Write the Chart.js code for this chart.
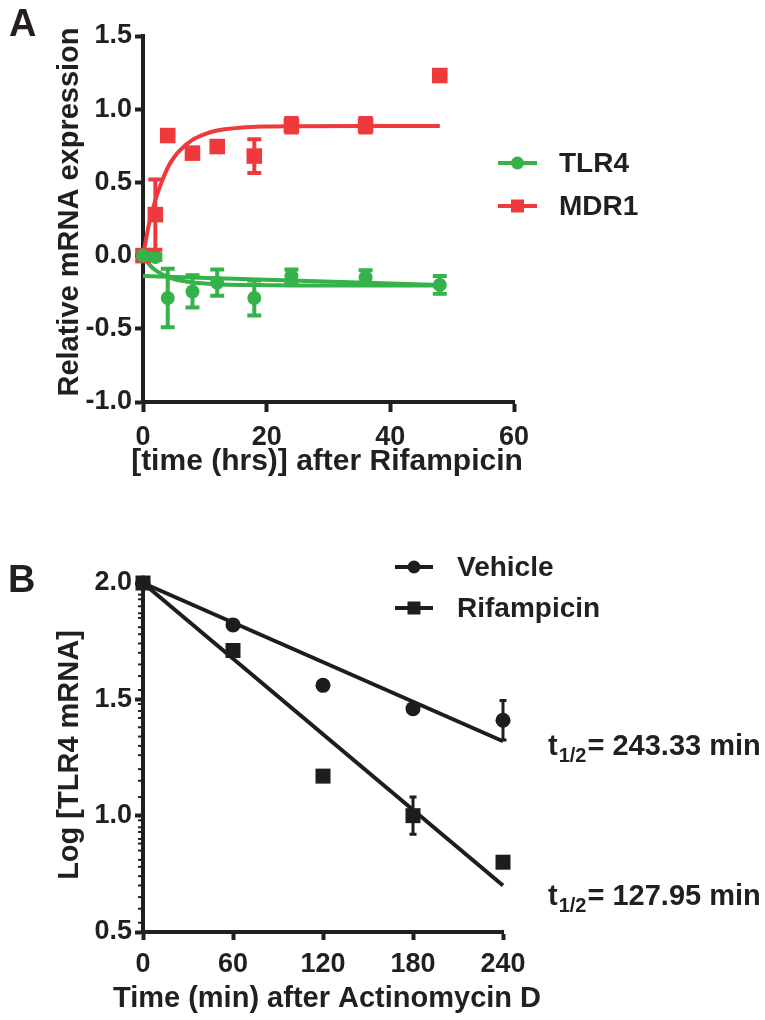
<!DOCTYPE html>
<html>
<head>
<meta charset="utf-8">
<script src="https://cdn.jsdelivr.net/npm/chart.js@4"></script>
<style>
  html, body { margin: 0; padding: 0; background: #fff; }
  #fig { position: relative; width: 765px; height: 1020px; font-family: "Liberation Sans", Arial, sans-serif; }
  .box { position: absolute; left: 0; width: 765px; }
  .panel { position: absolute; font-weight: bold; font-size: 38px; color: #231f20; line-height: 1; }
</style>
</head>
<body>
<div id="fig">
  <div class="box" style="top:0;height:490px"><canvas id="chartA"></canvas></div>
  <div class="box" style="top:500px;height:520px"><canvas id="chartB"></canvas></div>
  <div class="panel" style="left:9px;top:4px">A</div>
  <div class="panel" style="left:8px;top:560px">B</div>
</div>
<script>
// panel A: time course after rifampicin
const hoursA = [0, 2, 4, 8, 12, 18, 24, 36, 48];
const tlr4Mean = [0, -0.01, -0.29, -0.245, -0.185, -0.29, -0.14, -0.15, -0.2];
const tlr4Err = [0, 0.02, 0.2, 0.11, 0.09, 0.12, 0.045, 0.05, 0.06];
const mdr1Mean = [0, 0.28, 0.82, 0.70, 0.745, 0.68, 0.89, 0.89, 1.23];
const mdr1Err = [0, 0.24, 0, 0, 0, 0.115, 0.05, 0.05, 0];

// fitted curves
const fitHours = [0, 1, 2, 3, 4, 5, 6, 8, 10, 12, 16, 20, 24, 36, 48];
const mdr1Fit = [0, 0.22, 0.38, 0.50, 0.60, 0.67, 0.72, 0.79, 0.83, 0.855, 0.875, 0.882, 0.884, 0.885, 0.885];
const tlr4Fit = [0, -0.06, -0.10, -0.125, -0.145, -0.16, -0.17, -0.183, -0.19, -0.195, -0.2, -0.202, -0.204, -0.205, -0.205];
const tlr4LineHours = [0, 48];
const tlr4Line = [-0.14, -0.2];

// panel B: decay after actinomycin D
const minutesB = [0, 60, 120, 180, 240];
const vehicleMean = [2.0, 1.82, 1.56, 1.46, 1.41];
const vehicleErr = [0, 0, 0, 0, 0.085];
const rifMean = [2.0, 1.71, 1.17, 1.0, 0.80];
const rifErr = [0, 0, 0, 0.08, 0];
const fitMinutes = [0, 240];
const vehicleFit = [2.0, 1.32];
const rifFit = [2.0, 0.70];
const minorTicksB = [1.98, 1.95, 1.93, 1.90, 1.87, 1.85, 1.81, 1.78, 1.74, 1.70, 1.65, 1.60, 1.54,
  1.48, 1.45, 1.42, 1.38, 1.34, 1.30, 1.26, 1.20, 1.15, 1.08,
  0.98, 0.95, 0.93, 0.90, 0.88, 0.85, 0.81, 0.78, 0.74, 0.70, 0.65, 0.60, 0.54];

const TEXT = '#231f20';
const AX = '#231f20';
const GREEN = '#35b24a';
const RED = '#ee3a3d';
const BLACK = '#1f1c1d';
const FONT = '"Liberation Sans", Arial, sans-serif';

Chart.defaults.font.family = FONT;
Chart.defaults.font.weight = 'bold';
Chart.defaults.color = TEXT;

const pts = (xs, ys) => xs.map((x, i) => ({ x: x, y: ys[i] }));

// vertical error bars with caps
const errorBars = {
  id: 'errorBars',
  afterDatasetsDraw(chart, args, opts) {
    const ctx = chart.ctx;
    const xs = chart.scales.x, ys = chart.scales.y;
    chart.data.datasets.forEach((ds) => {
      if (!ds.errorBars) return;
      ctx.save();
      ctx.strokeStyle = ds.backgroundColor;
      ctx.lineWidth = opts.width;
      ds.data.forEach((p, i) => {
        const e = ds.errorBars[i];
        if (!e) return;
        const x = xs.getPixelForValue(p.x);
        const top = ys.getPixelForValue(p.y + e);
        const bot = ys.getPixelForValue(p.y - e);
        ctx.beginPath();
        ctx.moveTo(x, top); ctx.lineTo(x, bot);
        ctx.moveTo(x - opts.cap, top); ctx.lineTo(x + opts.cap, top);
        ctx.moveTo(x - opts.cap, bot); ctx.lineTo(x + opts.cap, bot);
        ctx.stroke();
      });
      ctx.restore();
    });
  }
};

// small unlabeled ticks on the y axis of panel B
const minorTicks = {
  id: 'minorTicks',
  afterDraw(chart, args, opts) {
    if (!opts.values) return;
    const ctx = chart.ctx, ys = chart.scales.y;
    const left = chart.chartArea.left;
    ctx.save();
    ctx.strokeStyle = AX;
    ctx.lineWidth = opts.width;
    opts.values.forEach((v) => {
      const y = ys.getPixelForValue(v);
      ctx.beginPath();
      ctx.moveTo(left - opts.length, y);
      ctx.lineTo(left, y);
      ctx.stroke();
    });
    ctx.restore();
  }
};

// hand placed legend, axis titles and notes
function marker(ctx, style, x, y, size, color) {
  ctx.fillStyle = color;
  if (style === 'circle') {
    ctx.beginPath(); ctx.arc(x, y, size / 2, 0, Math.PI * 2); ctx.fill();
  } else {
    ctx.fillRect(x - size / 2, y - size / 2, size, size);
  }
}

const sideText = {
  id: 'sideText',
  afterDraw(chart, args, opts) {
    const ctx = chart.ctx;
    ctx.save();
    (opts.legend || []).forEach((it) => {
      ctx.strokeStyle = it.color;
      ctx.lineWidth = 4;
      ctx.beginPath(); ctx.moveTo(it.x1, it.y); ctx.lineTo(it.x2, it.y); ctx.stroke();
      marker(ctx, it.style, (it.x1 + it.x2) / 2, it.y, it.size, it.color);
      ctx.fillStyle = TEXT;
      ctx.font = 'bold 28px ' + FONT;
      ctx.textBaseline = 'middle';
      ctx.textAlign = 'left';
      ctx.fillText(it.label, it.tx, it.y + 1);
    });
    (opts.titles || []).forEach((t) => {
      ctx.save();
      ctx.translate(t.x, t.y);
      if (t.rot) ctx.rotate(-Math.PI / 2);
      ctx.fillStyle = TEXT;
      ctx.font = 'bold ' + t.size + 'px ' + FONT;
      ctx.textAlign = 'center';
      ctx.textBaseline = 'middle';
      ctx.fillText(t.text, 0, 0);
      ctx.restore();
    });
    (opts.notes || []).forEach((n) => {
      ctx.fillStyle = TEXT;
      ctx.textBaseline = 'alphabetic';
      ctx.textAlign = 'left';
      ctx.font = 'bold 29px ' + FONT;
      ctx.fillText('t', n.x, n.y);
      let x = n.x + ctx.measureText('t').width + 1;
      ctx.font = 'bold 20px ' + FONT;
      ctx.fillText('1/2', x, n.y + 7);
      x += ctx.measureText('1/2').width + 1;
      ctx.font = 'bold 29px ' + FONT;
      ctx.fillText(n.text, x, n.y);
    });
    ctx.restore();
  }
};

function axisOpts(o) {
  return {
    type: 'linear',
    min: o.min, max: o.max,
    ticks: { stepSize: o.step, padding: o.pad, font: { size: 27, weight: 'bold' }, color: TEXT,
      callback: o.fmt },
    grid: { display: true, drawOnChartArea: false, tickLength: o.tl, tickWidth: 4, tickColor: AX },
    border: { display: true, width: 4, color: AX },
    title: { display: false },
    afterFit: o.fit
  };
}

new Chart(document.getElementById('chartA'), {
  type: 'scatter',
  data: {
    datasets: [
      { label: 'TLR4', data: pts(hoursA, tlr4Mean), errorBars: tlr4Err, backgroundColor: GREEN,
        pointStyle: 'circle', pointRadius: 7, borderWidth: 0, clip: false },
      { label: 'MDR1', data: pts(hoursA, mdr1Mean), errorBars: mdr1Err, backgroundColor: RED,
        pointStyle: 'rect', pointRadius: 11, borderWidth: 0, clip: false },
      { label: 'TLR4 fit', data: pts(fitHours, tlr4Fit), showLine: true, pointRadius: 0,
        borderColor: GREEN, borderWidth: 4, cubicInterpolationMode: 'monotone', clip: false },
      { label: 'TLR4 line', data: pts(tlr4LineHours, tlr4Line), showLine: true, pointRadius: 0,
        borderColor: GREEN, borderWidth: 4, clip: false },
      { label: 'MDR1 fit', data: pts(fitHours, mdr1Fit), showLine: true, pointRadius: 0,
        borderColor: RED, borderWidth: 4, cubicInterpolationMode: 'monotone', clip: false }
    ]
  },
  options: {
    responsive: true, maintainAspectRatio: false, animation: false,
    layout: { padding: { left: 0, top: 36, right: 251, bottom: 10 } },
    plugins: {
      legend: { display: false }, tooltip: { enabled: false },
      errorBars: { cap: 7, width: 4 },
      sideText: {
        legend: [
          { label: 'TLR4', style: 'circle', size: 13, color: GREEN, x1: 498, x2: 537, y: 163, tx: 559 },
          { label: 'MDR1', style: 'rect', size: 13, color: RED, x1: 498, x2: 537, y: 206, tx: 559 }
        ],
        titles: [
          { text: '[time (hrs)] after Rifampicin', x: 327, y: 462, size: 30 },
          { text: 'Relative mRNA expression', x: 70, y: 212, size: 29, rot: true }
        ]
      }
    },
    scales: {
      x: axisOpts({ min: 0, max: 60, step: 20, pad: 9, tl: 10, fmt: (v) => v,
        fit: (s) => { s.height = 78; } }),
      y: axisOpts({ min: -1, max: 1.5, step: 0.5, pad: 3, tl: 8, fmt: (v) => v.toFixed(1),
        fit: (s) => { s.width = 143; } })
    }
  },
  plugins: [errorBars, sideText]
});

new Chart(document.getElementById('chartB'), {
  type: 'scatter',
  data: {
    datasets: [
      { label: 'Vehicle', data: pts(minutesB, vehicleMean), errorBars: vehicleErr, backgroundColor: BLACK,
        pointStyle: 'circle', pointRadius: 7.5, borderWidth: 0, clip: false },
      { label: 'Rifampicin', data: pts(minutesB, rifMean), errorBars: rifErr, backgroundColor: BLACK,
        pointStyle: 'rect', pointRadius: 10.6, borderWidth: 0, clip: false },
      { label: 'Vehicle fit', data: pts(fitMinutes, vehicleFit), showLine: true, pointRadius: 0,
        borderColor: BLACK, borderWidth: 4, clip: false },
      { label: 'Rifampicin fit', data: pts(fitMinutes, rifFit), showLine: true, pointRadius: 0,
        borderColor: BLACK, borderWidth: 4, clip: false }
    ]
  },
  options: {
    responsive: true, maintainAspectRatio: false, animation: false,
    layout: { padding: { left: 0, top: 83, right: 262, bottom: 4 } },
    plugins: {
      legend: { display: false }, tooltip: { enabled: false },
      errorBars: { cap: 3.5, width: 3 },
      minorTicks: { values: minorTicksB, length: 5, width: 2 },
      sideText: {
        legend: [
          { label: 'Vehicle', style: 'circle', size: 13, color: BLACK, x1: 395, x2: 433, y: 67, tx: 457 },
          { label: 'Rifampicin', style: 'rect', size: 13, color: BLACK, x1: 395, x2: 433, y: 108, tx: 457 }
        ],
        titles: [
          { text: 'Time (min) after Actinomycin D', x: 327, y: 499, size: 29 },
          { text: 'Log [TLR4 mRNA]', x: 70, y: 255, size: 29, rot: true }
        ],
        notes: [
          { x: 548, y: 255, text: '= 243.33 min' },
          { x: 548, y: 405, text: '= 127.95 min' }
        ]
      }
    },
    scales: {
      x: axisOpts({ min: 0, max: 240, step: 60, pad: 8, tl: 8, fmt: (v) => v,
        fit: (s) => { s.height = 84; } }),
      y: axisOpts({ min: 0.5, max: 2.0, step: 0.5, pad: 3, tl: 8, fmt: (v) => v.toFixed(1),
        fit: (s) => { s.width = 143; } })
    }
  },
  plugins: [errorBars, minorTicks, sideText]
});
</script>
</body>
</html>
